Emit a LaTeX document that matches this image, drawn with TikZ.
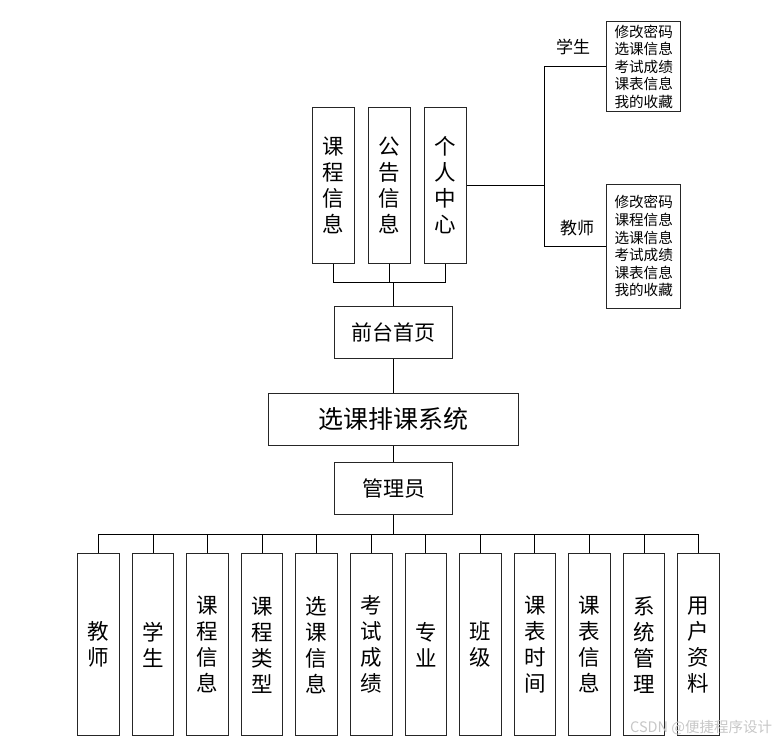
\documentclass[tikz,border=0pt]{standalone}
\usepackage{fontspec}
\setmainfont{Noto Sans CJK SC}
\begin{document}
\begin{tikzpicture}[x=1pt,y=-1pt,
  box/.style={draw=black!85, line width=1pt, inner sep=0pt, align=center},
  vbox/.style={box, minimum width=41.6pt, font=\fontsize{21.5}{26}\selectfont},
  hbox/.style={box, minimum width=117.6pt, minimum height=52pt, font=\fontsize{21}{24}\selectfont},
  sbox/.style={box, minimum width=74pt, font=\fontsize{14.6}{17.6}\selectfont},
  lbl/.style={inner sep=0pt, font=\fontsize{17}{18}\selectfont},
  ln/.style={line width=0.9pt, draw=black}]
\useasboundingbox (0,0) rectangle (779,741);

% top row
\node[vbox, minimum height=156pt] (c1) at (333.5,185.3) {课\\程\\信\\息};
\node[vbox, minimum height=156pt] (c2) at (389.4,185.3) {公\\告\\信\\息};
\node[vbox, minimum height=156pt] (c3) at (445.4,185.3) {个\\人\\中\\心};

% personal centre branches
\node[sbox, minimum height=90pt] (stu) at (643.7,66.7) {修改密码\\选课信息\\考试成绩\\课表信息\\我的收藏};
\node[sbox, minimum height=124pt] (tea) at (643.7,246.3) {修改密码\\课程信息\\选课信息\\考试成绩\\课表信息\\我的收藏};
\node[lbl] (lstu) at (573,46.7) {学生};
\node[lbl] (ltea) at (577,228) {教师};

% middle column
\node[hbox] (home) at (393.5,332.8) {前台首页};
\node[box, minimum width=249.7pt, minimum height=52pt, font=\fontsize{25}{28}\selectfont] (sys) at (393.8,419) {选课排课系统};
\node[hbox] (adm) at (393.5,488.5) {管理员};

% bottom row
\foreach \t [count=\i] in {{教\\师},{学\\生},{课\\程\\信\\息},{课\\程\\类\\型},{选\\课\\信\\息},{考\\试\\成\\绩},{专\\业},{班\\级},{课\\表\\时\\间},{课\\表\\信\\息},{系\\统\\管\\理},{用\\户\\资\\料}}{
  \node[vbox, minimum height=182pt] (b\i) at ({98.5+54.55*(\i-1)},644.7) {\t};
}

% connectors
\coordinate (tb) at (393.5,282.3);
\draw[ln] (c1.south) |- (tb);
\draw[ln] (c3.south) |- (tb);
\draw[ln] (c2.south) -- (c2.south |- tb);
\draw[ln] (tb) -- (home.north);
\coordinate (pj) at (544.3,185.3);
\draw[ln] (c3.east) -- (pj);
\draw[ln] (pj) |- (stu.west);
\draw[ln] (pj) |- (tea.west);
\draw[ln] (home.south) -- (sys.north -| home.south);
\draw[ln] (sys.south -| adm.north) -- (adm.north);
\coordinate (bb) at (393.5,534);
\draw[ln] (adm.south) -- (bb);
\foreach \i in {1,...,12}{
  \draw[ln] (b\i.north) |- (bb);
}

% watermark
\node[inner sep=0pt, anchor=west, text=black!22, font=\fontsize{14.5}{15}\selectfont] (wm) at (630,727.5) {CSDN @便捷程序设计};
\end{tikzpicture}
\end{document}
